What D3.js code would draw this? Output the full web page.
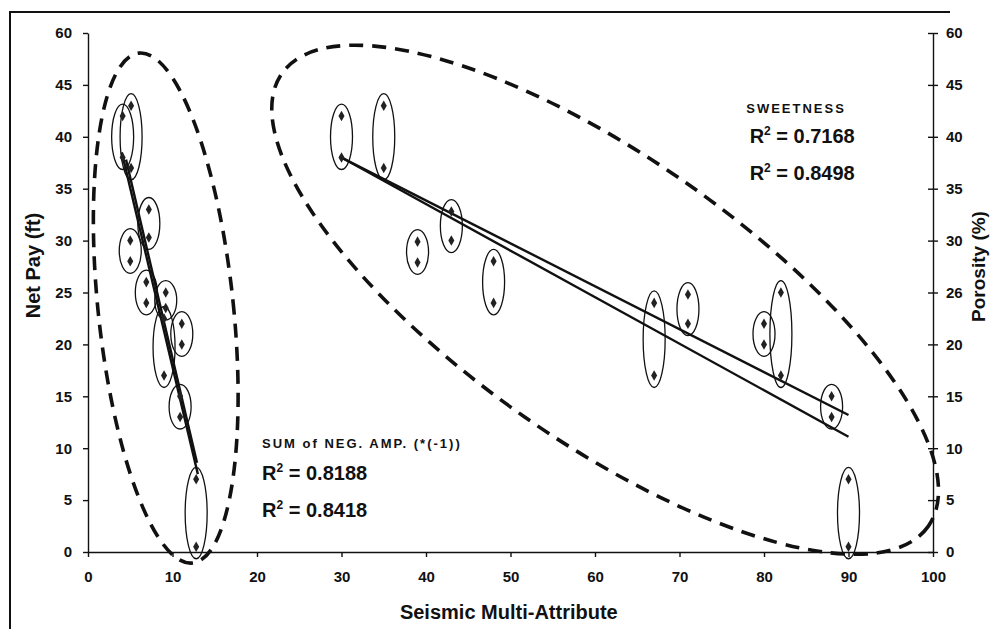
<!DOCTYPE html>
<html>
<head>
<meta charset="utf-8">
<script src="https://cdn.jsdelivr.net/npm/d3@7"></script>
<style>
body { margin: 0; background: #fff; }
#chart { width: 990px; height: 629px; overflow: hidden; }
text { font-family: Arial, "Liberation Sans", sans-serif; fill: #111; }
.axis path, .axis line { stroke: #111; stroke-width: 1.4; }
.axis text { font-size: 15px; font-weight: bold; fill: #111; }
.oval { fill: none; stroke: #111; stroke-width: 1.3; }
.group-oval { fill: none; stroke: #111; stroke-width: 3.6; stroke-dasharray: 14,9; }
.trend { stroke: #111; stroke-width: 2.4; fill: none; }
.point { fill: #222; }
.axis-title { font-size: 20px; font-weight: bold; }
.label-small { font-size: 13px; font-weight: bold; letter-spacing: 2px; }
.label-r2 { font-size: 20px; font-weight: bold; }
</style>
</head>
<body>
<div id="chart"></div>
<script>
// sum of neg. amp. (*(-1)) : x and the two values read in each oval
const negAmpX = [4.1, 5.1, 5.0, 7.2, 6.9, 9.2, 9.0, 11.1, 10.9, 12.8];
const negAmpUpper = [42, 43, 30, 33, 26, 25, 22.5, 22, 15, 7];
const negAmpLower = [38, 37, 28, 30.3, 24, 23.5, 17, 20, 13, 0.5];

// sweetness
const sweetX = [30, 35, 43, 39, 48, 67, 71, 80, 82, 88, 90];
const sweetUpper = [42, 43, 32.8, 29.9, 28, 24, 24.8, 22, 25, 15, 7];
const sweetLower = [38, 37, 30, 27.9, 24, 17, 22, 20, 17, 13, 0.5];

// trend lines [x, y] end points
const negAmpTrend1 = [[4.0, 38.5], [13.0, 7.5]];
const negAmpTrend2 = [[4.5, 37.8], [12.9, 8.6]];
const sweetTrend1 = [[30, 38.0], [90, 13.2]];
const sweetTrend2 = [[30, 38.0], [90, 11.1]];

// dashed group outlines: centre x, centre y, half axes (x units, y units), tilt in degrees
const groupOvals = [
    { cx: 9.2, cy: 23.5, hx: 8.0, hy: 24.7, tilt: -6 },
    { cx: 61.2, cy: 24.3, hx: 46.7, hy: 13.7, tilt: 35 }
];

// ticks
const xTicks = [0, 10, 20, 30, 40, 50, 60, 70, 80, 90, 100];
const yTicks = [0, 5, 10, 15, 20, 25, 30, 35, 40, 45, 50];
const leftTickLabels = ["0", "5", "10", "15", "20", "25", "30", "35", "40", "45", "60"];
const rightTickLabels = ["0", "5", "10", "15", "20", "26", "30", "35", "40", "45", "60"];

const annotations = [
    { x: 77.9, y: 42.3, cls: "label-small", text: "SWEETNESS" },
    { x: 78.3, y: 39.4, cls: "label-r2", text: "R", sup: "2", rest: " = 0.7168" },
    { x: 78.3, y: 35.8, cls: "label-r2", text: "R", sup: "2", rest: " = 0.8498" },
    { x: 20.6, y: 10.0, cls: "label-small", text: "SUM of NEG. AMP. (*(-1))" },
    { x: 20.6, y: 6.9, cls: "label-r2", text: "R", sup: "2", rest: " = 0.8188" },
    { x: 20.6, y: 3.4, cls: "label-r2", text: "R", sup: "2", rest: " = 0.8418" }
];

function PayChart(container) {
    this.container = "#" + container;
    this.margin = { top: 33, right: 57, bottom: 77, left: 88 };
    this.width = 990 - this.margin.left - this.margin.right;
    this.height = 629 - this.margin.top - this.margin.bottom;
    this.svg = null;
    this.x = null;
    this.y = null;
}

PayChart.prototype = {
    constructor: PayChart,

    init: function() {
        let self = this;

        let root = d3.select(self.container).append("svg")
            .attr("width", 990)
            .attr("height", 629);

        // page frame
        root.append("path")
            .attr("d", "M10,629 V12 H950")
            .attr("fill", "none")
            .attr("stroke", "#111")
            .attr("stroke-width", 2);

        self.svg = root.append("g")
            .attr("transform", "translate(" + self.margin.left + "," + self.margin.top + ")");

        self.x = d3.scaleLinear().domain([0, 100]).range([0, self.width]);
        self.y = d3.scaleLinear().domain([0, 50]).range([self.height, 0]);

        self.drawAxes();
        self.drawGroups();
        self.drawSeries(negAmpX, negAmpUpper, negAmpLower, [negAmpTrend1, negAmpTrend2]);
        self.drawSeries(sweetX, sweetUpper, sweetLower, [sweetTrend1, sweetTrend2]);
        self.drawLabels();
    },

    drawAxes: function() {
        let self = this;

        self.svg.append("g")
            .attr("class", "axis axis--x")
            .attr("transform", "translate(0," + self.height + ")")
            .call(d3.axisBottom(self.x).tickValues(xTicks).tickSize(5).tickSizeOuter(0).tickPadding(14));

        self.svg.append("g")
            .attr("class", "axis axis--y")
            .call(d3.axisLeft(self.y).tickValues(yTicks).tickSize(5).tickSizeOuter(0).tickPadding(11)
                .tickFormat((d, i) => leftTickLabels[i]));

        let right = self.svg.append("g")
            .attr("class", "axis axis--y2")
            .attr("transform", "translate(" + self.width + ",0)")
            .call(d3.axisRight(self.y).tickValues(yTicks).tickSize(5).tickSizeOuter(0).tickPadding(8)
                .tickFormat((d, i) => rightTickLabels[i]));
        right.selectAll(".tick line").attr("x1", -5);

        self.svg.append("text")
            .attr("class", "axis-title")
            .attr("text-anchor", "middle")
            .attr("transform", "translate(" + (-48) + "," + (self.height / 2 - 27) + ") rotate(-90)")
            .text("Net Pay (ft)");

        self.svg.append("text")
            .attr("class", "axis-title")
            .attr("text-anchor", "middle")
            .style("font-size", "19px")
            .attr("transform", "translate(" + (self.width + 52) + "," + (self.height / 2 - 26) + ") rotate(-90)")
            .text("Porosity (%)");

        self.svg.append("text")
            .attr("class", "axis-title")
            .attr("text-anchor", "middle")
            .attr("x", self.x(49.8))
            .attr("y", self.height + 67)
            .text("Seismic Multi-Attribute");
    },

    drawGroups: function() {
        let self = this;
        self.svg.selectAll(".group-oval")
            .data(groupOvals)
            .enter().append("ellipse")
                .attr("class", "group-oval")
                .attr("rx", d => self.x(d.hx) - self.x(0))
                .attr("ry", d => self.y(0) - self.y(d.hy))
                .attr("transform", d => "translate(" + self.x(d.cx) + "," + self.y(d.cy) + ") rotate(" + d.tilt + ")");
    },

    drawSeries: function(xs, upper, lower, trends) {
        let self = this;
        let pad = 1.15;
        let pairs = xs.map((x, i) => ({ x: x, a: upper[i], b: lower[i] }));

        let line = d3.line().x(d => self.x(d[0])).y(d => self.y(d[1]));
        self.svg.selectAll(null)
            .data(trends)
            .enter().append("path")
                .attr("class", "trend")
                .attr("d", line);

        self.svg.selectAll(null)
            .data(pairs)
            .enter().append("ellipse")
                .attr("class", "oval")
                .attr("cx", d => self.x(d.x))
                .attr("cy", d => self.y((d.a + d.b) / 2))
                .attr("rx", 11)
                .attr("ry", d => self.y(0) - self.y(Math.abs(d.a - d.b) / 2 + pad));

        let pts = [];
        pairs.forEach(d => { pts.push([d.x, d.a]); pts.push([d.x, d.b]); });
        self.svg.selectAll(null)
            .data(pts)
            .enter().append("path")
                .attr("class", "point")
                .attr("d", d3.symbol(d3.symbolDiamond, 32))
                .attr("transform", d => "translate(" + self.x(d[0]) + "," + self.y(d[1]) + ")");
    },

    drawLabels: function() {
        let self = this;
        let t = self.svg.selectAll(".note")
            .data(annotations)
            .enter().append("text")
                .attr("class", d => "note " + d.cls)
                .attr("x", d => self.x(d.x))
                .attr("y", d => self.y(d.y));
        t.append("tspan").text(d => d.text);
        t.filter(d => d.sup).append("tspan")
            .attr("dy", -8).attr("font-size", 12).text(d => d.sup);
        t.filter(d => d.sup).append("tspan")
            .attr("dy", 8).text(d => d.rest);
    }
}

let chart = new PayChart("chart");
chart.init();
</script>
</body>
</html>
